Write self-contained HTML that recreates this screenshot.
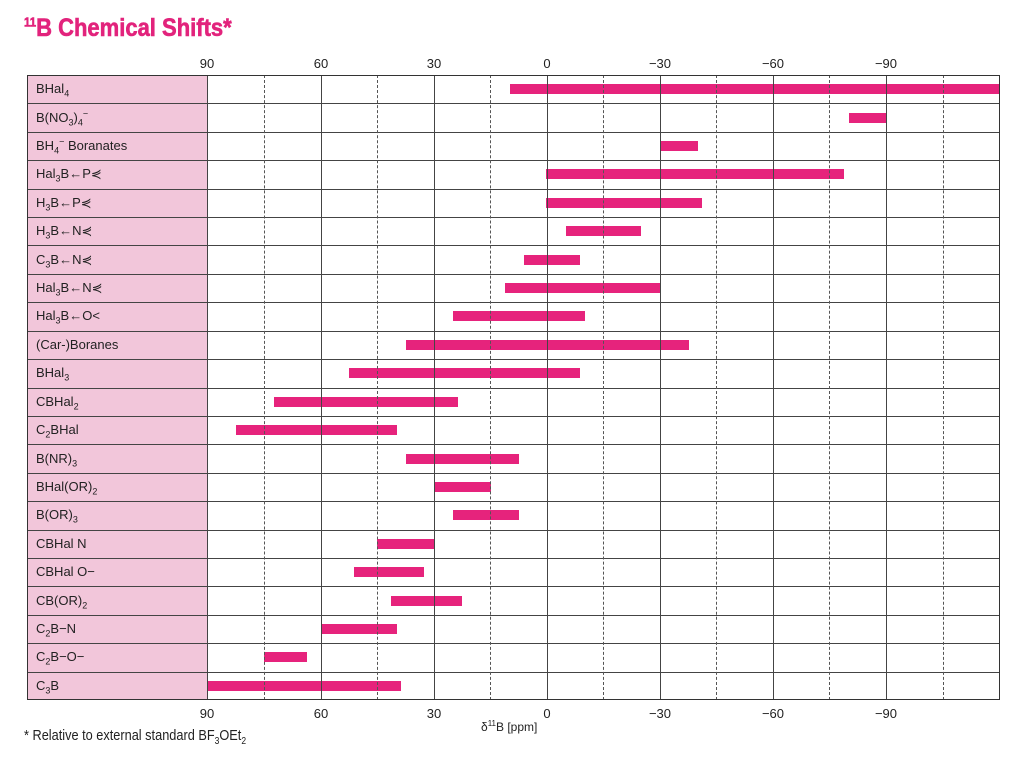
<!DOCTYPE html>
<html><head><meta charset="utf-8"><style>
body{margin:0;width:1024px;height:759px;background:#fff;position:relative;overflow:hidden;font-family:"Liberation Sans",sans-serif;color:#222}
.t{position:absolute;left:24px;top:14px;font-size:25px;font-weight:900;color:#e2237c;transform:scaleX(0.88);transform-origin:left;-webkit-text-stroke:0.6px #e2237c}
.t sup{font-size:13px}
.tab{position:absolute;left:27px;top:75px;width:973px;height:625px;border:1.5px solid #333;box-sizing:border-box}
.lab{position:absolute;left:27px;top:75px;width:180px;height:625px;background:#f2c6da}
.h{position:absolute;left:27px;width:973px;border-top:1px solid #444}
.v{position:absolute;top:75px;height:625px;border-left:1px solid #444}
.v.d{border-left:1px dashed #555}
.row{position:absolute;left:36px;font-size:13px;line-height:16px}
.row sub,.row sup{font-size:9px;line-height:0}
.bar{position:absolute;height:10px;background:#e6237c}
.ax{position:absolute;font-size:13px;transform:translateX(-50%)}
</style></head><body>
<div class="t"><sup>11</sup>B Chemical Shifts*</div>
<div class="lab"></div>
<div id="g"></div>
<div class="tab"></div>
<div style="position:absolute;left:24px;top:727px;font-size:15px;transform:scaleX(0.85);transform-origin:left">* Relative to external standard BF<sub style="font-size:10px;line-height:0">3</sub>OEt<sub style="font-size:10px;line-height:0">2</sub></div>
<div style="position:absolute;left:481px;top:720px;font-size:12px">δ<sup style="font-size:8px;line-height:0">11</sup>B [ppm]</div>
<script>
var g=document.getElementById('g'),h='';
var names=["BHal<sub>4</sub>","B(NO<sub>3</sub>)<sub>4</sub><sup>−</sup>","BH<sub>4</sub><sup>−</sup> Boranates","Hal<sub>3</sub>B←P⋞","H<sub>3</sub>B←P⋞","H<sub>3</sub>B←N⋞","C<sub>3</sub>B←N⋞","Hal<sub>3</sub>B←N⋞","Hal<sub>3</sub>B←O&lt;","(Car-)Boranes","BHal<sub>3</sub>","CBHal<sub>2</sub>","C<sub>2</sub>BHal","B(NR)<sub>3</sub>","BHal(OR)<sub>2</sub>","B(OR)<sub>3</sub>","CBHal N","CBHal O−","CB(OR)<sub>2</sub>","C<sub>2</sub>B−N","C<sub>2</sub>B−O−","C<sub>3</sub>B"];
var bars=[[510,1000],[849,886],[660,698],[546,844],[546,702],[566,641],[524,580],[505,660],[453,585],[406,689],[349,580],[274,458],[236,397],[406,519],[434,491],[453,519],[377,434],[354,424],[391,462],[321,397],[264,307],[207,401]];
var rh=625/22;
for(var i=0;i<22;i++){var y=75+rh*i;if(i>0)h+='<div class="h" style="top:'+y+'px"></div>';
var c=y+rh/2;h+='<div class="row" style="top:'+(c-8)+'px">'+names[i]+'</div>';
h+='<div class="bar" style="left:'+bars[i][0]+'px;width:'+(bars[i][1]-bars[i][0])+'px;top:'+(c-5)+'px"></div>';}
var xs=[207,264,321,377,434,490,547,603,660,716,773,829,886,943];
for(var j=0;j<xs.length;j++){h+='<div class="v'+(j%2?' d':'')+'" style="left:'+xs[j]+'px"></div>';}
var lb=["90","60","30","0","−30","−60","−90"];
for(var k=0;k<7;k++){var x=xs[k*2];h+='<div class="ax" style="left:'+x+'px;top:56px">'+lb[k]+'</div><div class="ax" style="left:'+x+'px;top:706px">'+lb[k]+'</div>';}
g.innerHTML=h;
</script>
</body></html>
